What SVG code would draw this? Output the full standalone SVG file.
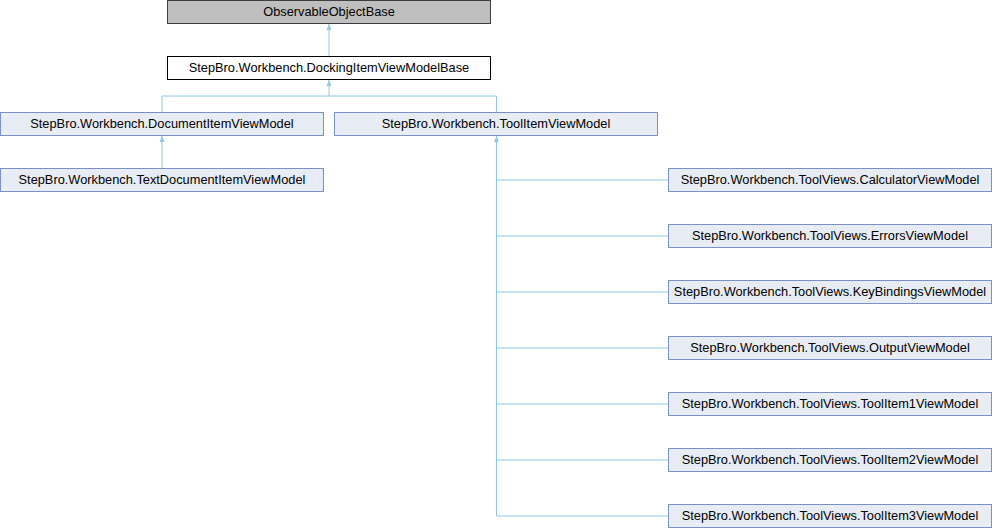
<svg xmlns="http://www.w3.org/2000/svg" width="992" height="528" viewBox="0 0 992 528">
<defs>
<style>
.n rect{fill:#e8ecf5;stroke:#7b90c6;stroke-width:1}
.n text{font-family:"Liberation Sans",Arial,sans-serif;font-size:12.8px;fill:#000;text-anchor:middle}
.e{fill:none;stroke:#8ec8ea;stroke-width:1}
</style>
<marker id="a" viewBox="0 0 6 6" refX="6" refY="3" markerWidth="6" markerHeight="6" orient="auto" markerUnits="userSpaceOnUse">
<path d="M0,0.5 L6,3 L0,5.5 Z" fill="#8ec8ea"/>
</marker>
</defs>
<rect width="992" height="528" fill="#fff"/>
<g id="edges">
<path class="e" d="M329,56 V24" marker-end="url(#a)"/>
<path class="e" d="M162,112 V96 H329 V80" marker-end="url(#a)"/>
<path class="e" d="M496.5,112 V96 H329"/>
<path class="e" d="M162,168 V136" marker-end="url(#a)"/>
<path class="e" d="M496.5,180 V136" marker-end="url(#a)"/>
<path class="e" d="M668,180 H496.5 V516 H668"/>
<path class="e" d="M496.5,236 H668 M496.5,292 H668 M496.5,348 H668 M496.5,404 H668 M496.5,460 H668"/>
</g>
<g id="ObservableObjectBase" class="n"><rect x="167.5" y="0.5" width="323" height="23" style="fill:#bfbfbf;stroke:#404040"/><text x="329" y="16">ObservableObjectBase</text></g>
<g id="DockingItemViewModelBase" class="n"><rect x="167.5" y="56.5" width="323" height="23" style="fill:#fff;stroke:#000"/><text x="329" y="72">StepBro.Workbench.DockingItemViewModelBase</text></g>
<g id="DocumentItemViewModel" class="n"><rect x="0.5" y="112.5" width="323" height="23"/><text x="162" y="128">StepBro.Workbench.DocumentItemViewModel</text></g>
<g id="ToolItemViewModel" class="n"><rect x="334.5" y="112.5" width="323" height="23"/><text x="496" y="128">StepBro.Workbench.ToolItemViewModel</text></g>
<g id="TextDocumentItemViewModel" class="n"><rect x="0.5" y="168.5" width="323" height="23"/><text x="162" y="184">StepBro.Workbench.TextDocumentItemViewModel</text></g>
<g id="CalculatorViewModel" class="n"><rect x="668.5" y="168.5" width="323" height="23"/><text x="830" y="184">StepBro.Workbench.ToolViews.CalculatorViewModel</text></g>
<g id="ErrorsViewModel" class="n"><rect x="668.5" y="224.5" width="323" height="23"/><text x="830" y="240">StepBro.Workbench.ToolViews.ErrorsViewModel</text></g>
<g id="KeyBindingsViewModel" class="n"><rect x="668.5" y="280.5" width="323" height="23"/><text x="830" y="296">StepBro.Workbench.ToolViews.KeyBindingsViewModel</text></g>
<g id="OutputViewModel" class="n"><rect x="668.5" y="336.5" width="323" height="23"/><text x="830" y="352">StepBro.Workbench.ToolViews.OutputViewModel</text></g>
<g id="ToolItem1ViewModel" class="n"><rect x="668.5" y="392.5" width="323" height="23"/><text x="830" y="408">StepBro.Workbench.ToolViews.ToolItem1ViewModel</text></g>
<g id="ToolItem2ViewModel" class="n"><rect x="668.5" y="448.5" width="323" height="23"/><text x="830" y="464">StepBro.Workbench.ToolViews.ToolItem2ViewModel</text></g>
<g id="ToolItem3ViewModel" class="n"><rect x="668.5" y="504.5" width="323" height="23"/><text x="830" y="520">StepBro.Workbench.ToolViews.ToolItem3ViewModel</text></g>
</svg>
